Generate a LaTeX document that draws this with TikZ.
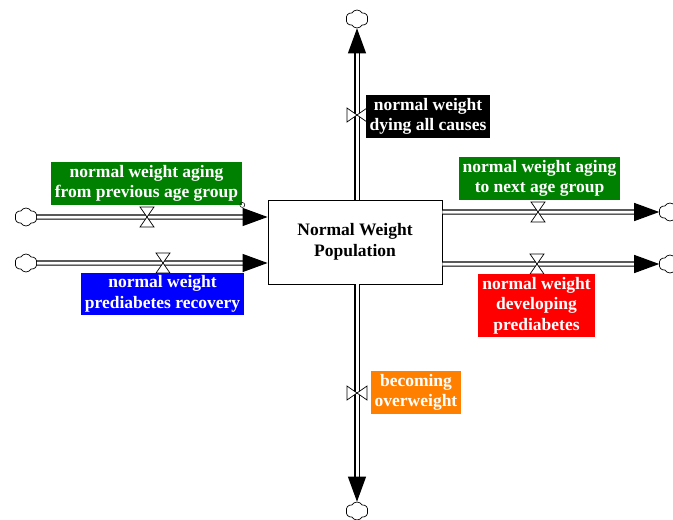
\documentclass[tikz,border=0pt]{standalone}
\usepackage{fontspec}
\setmainfont{Liberation Serif}
\usetikzlibrary{positioning}
\usetikzlibrary{arrows.meta}
\usetikzlibrary{shapes.symbols}

\definecolor{agegreen}{RGB}{0,128,0}
\definecolor{recblue}{RGB}{0,0,255}
\definecolor{devred}{RGB}{255,0,0}
\definecolor{overorange}{RGB}{255,128,0}

\begin{document}
\begin{tikzpicture}[x=1pt, y=-1pt,
        every node/.style={font=\fontsize{17.5}{20.5}\selectfont\bfseries, align=center},
        stock/.style={draw, line width=0.8pt, minimum width=174pt, minimum height=84pt},
        rate/.style={fill=#1, text=white, inner xsep=4pt, inner ysep=3pt},
        source/.style={cloud, draw, cloud puffs=6, cloud puff arc=120, aspect=1.3, minimum width=22pt,
                       minimum height=18pt, inner sep=0pt, line width=0.7pt},
        pipe/.style={draw, double, double distance=3pt, line width=1.1pt},
        flowtip/.style={-{Triangle[length=25pt,width=18pt]}},
        valve/.pic={\draw[fill=white, line width=0.7pt] (-7,-10) -- (7,-10) -- (-7,10) -- (7,10) -- cycle;}]
    \useasboundingbox (0,0) rectangle (673,520);

    \node[stock] (nwp) at (355,242) {Normal Weight\\Population};

    % clouds
    \node[source] (srcAge) at (26,217) {};
    \node[source] (srcRec) at (26,263) {};
    \node[source] (snkAge) at (670,212) {};
    \node[source] (snkDev) at (670,264) {};
    \node[source] (snkDie) at (357,19) {};
    \node[source] (snkOver) at (357,511) {};

    % pipes
    \draw[pipe, flowtip] (srcAge.east) -- (srcAge -| nwp.west);
    \draw[pipe, flowtip] (srcRec.east) -- (srcRec -| nwp.west);
    \draw[pipe, flowtip] (nwp.east |- snkAge) -- (snkAge.west);
    \draw[pipe, flowtip] (nwp.east |- snkDev) -- (snkDev.west);
    \draw[pipe, flowtip] (snkDie |- nwp.north) -- (snkDie.south);
    \draw[pipe, flowtip] (snkOver |- nwp.south) -- (snkOver.north);

    % valves
    \pic at (147,217) {valve};
    \pic at (163,263) {valve};
    \pic at (538,212) {valve};
    \pic at (537,264) {valve};
    \pic[rotate=90] at (357,115) {valve};
    \pic[rotate=90] at (357,393) {valve};

    \node[rate=agegreen] (lblAgeIn) at (146.5,183.5) {normal weight aging\\from previous age group};
    \draw[line width=0.5pt] (lblAgeIn.south east) circle (2.5);
    \node[rate=recblue] (lblRec) at (162.5,294) {normal weight\\prediabetes recovery};
    \node[rate=black] (lblDie) at (428,116.5) {normal weight\\dying all causes};
    \node[rate=agegreen] (lblAgeOut) at (539.5,178.5) {normal weight aging\\to next age group};
    \node[rate=devred] (lblDev) at (536.5,305.5) {normal weight\\developing\\prediabetes};
    \node[rate=overorange] (lblOver) at (416,392.5) {becoming\\overweight};
\end{tikzpicture}
\end{document}
